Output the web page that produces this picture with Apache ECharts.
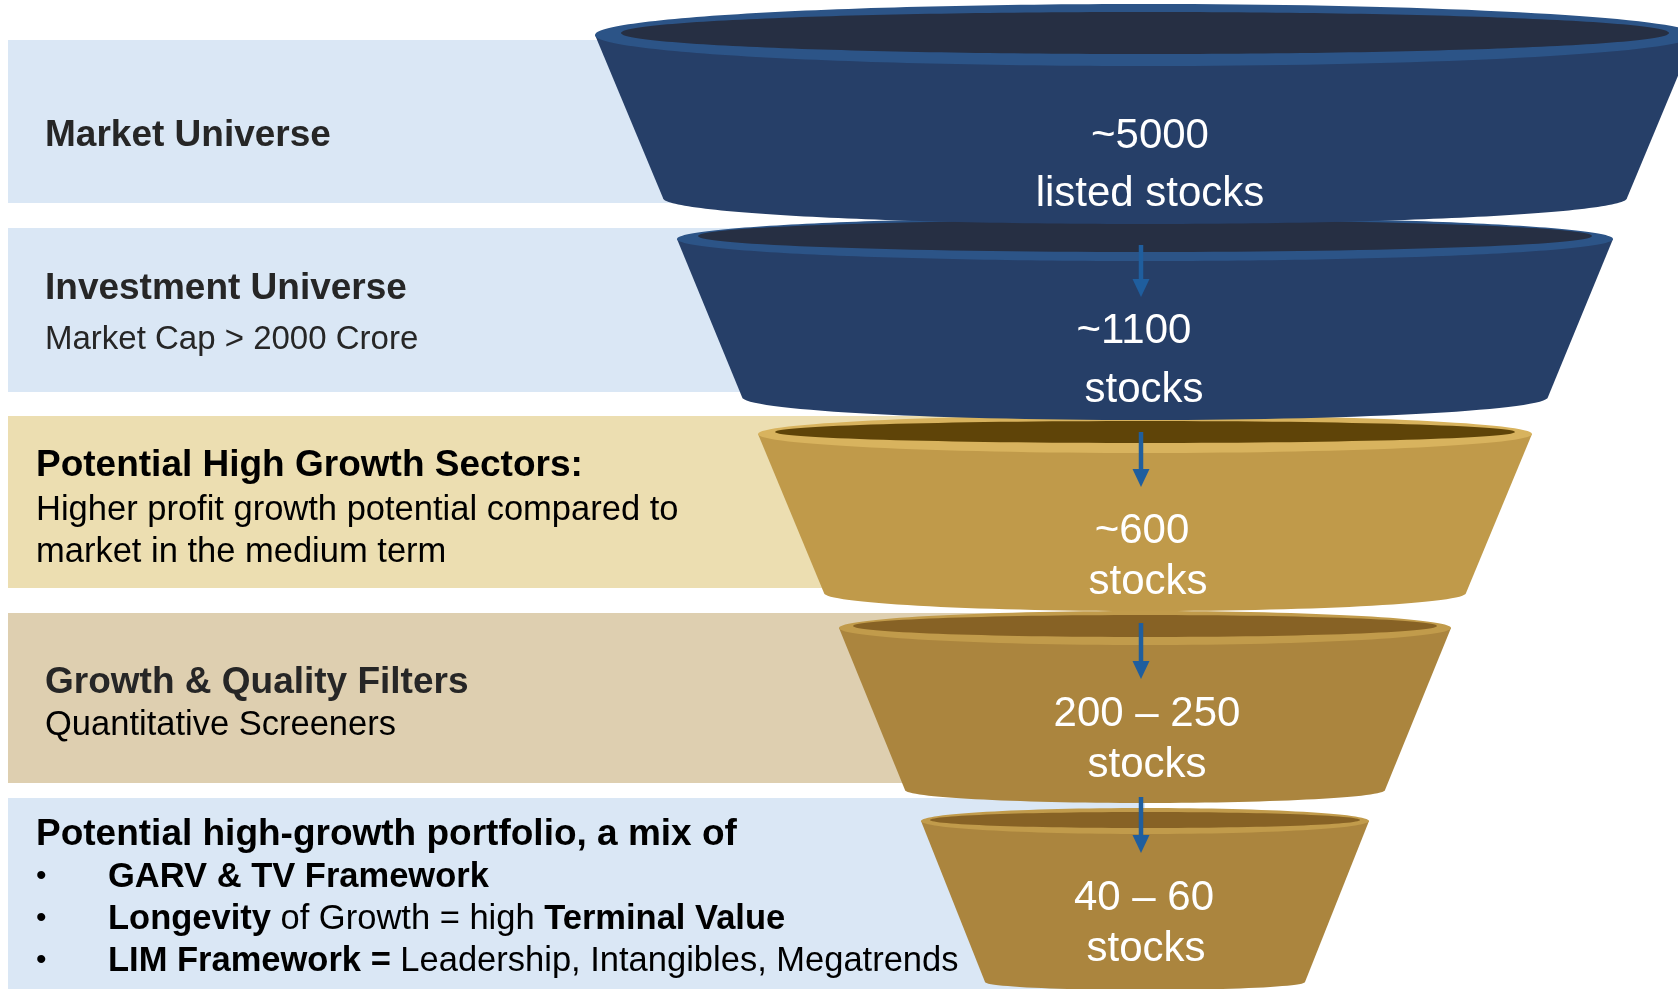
<!DOCTYPE html>
<html>
<head>
<meta charset="utf-8">
<script src="https://cdn.jsdelivr.net/npm/echarts@6/dist/echarts.min.js"></script>
<style>
html,body{margin:0;padding:0;background:#fff;}
#chart{width:1678px;height:989px;}
</style>
</head>
<body>
<div id="chart"></div>
<script>
// ---------- DATA ----------
const stageTitles = [
  'Market Universe',
  'Investment Universe',
  'Potential High Growth Sectors:',
  'Growth & Quality Filters',
  'Potential high-growth portfolio, a mix of'
];
const stageDetails = [
  [],
  ['Market Cap > 2000 Crore'],
  ['Higher profit growth potential compared to', 'market in the medium term'],
  ['Quantitative Screeners'],
  []
];
const portfolioBullets = [
  '{b|GARV & TV Framework}',
  '{b|Longevity}{r| of Growth = high }{b|Terminal Value}',
  '{b|LIM Framework =}{r| Leadership, Intangibles, Megatrends}'
];
const stockCounts = ['~5000', '~1100', '~600', '200 – 250', '40 – 60'];
const stockUnits = ['listed stocks', 'stocks', 'stocks', 'stocks', 'stocks'];

// ---------- LAYOUT / STYLE ----------
const FONT = '"Liberation Sans", Arial, sans-serif';
const TY = 3; // vertical text offset
const panelLayout = [
  {y0: 40,  y1: 203, fill: '#DAE7F5', titleY: 133, titleColor: '#262626', titleX: 45, detailY: [], detailSize: 34, detailColor: '#262626'},
  {y0: 228, y1: 392, fill: '#DAE7F5', titleY: 286, titleColor: '#262626', titleX: 45, detailY: [337], detailSize: 33, detailColor: '#262626'},
  {y0: 416, y1: 588, fill: '#ECDEB1', titleY: 463, titleColor: '#000000', titleX: 36, detailY: [507, 549], detailSize: 34.5, detailColor: '#000000'},
  {y0: 613, y1: 783, fill: '#DECFB0', titleY: 680, titleColor: '#262626', titleX: 45, detailY: [722], detailSize: 34.5, detailColor: '#000000'},
  {y0: 798, y1: 995, fill: '#DAE7F5', titleY: 832, titleColor: '#000000', titleX: 36, detailY: [], detailSize: 34.5, detailColor: '#000000'}
];
const bulletLayout = {bulletX: 36, textX: 108, ys: [874, 916, 958]};
const funnelLayout = [
  {topY: 35,  topRx: 550, topRy: 31, inRx: 524, inRy: 21, inDy: -2, botY: 198, botRx: 482, botRy: 26,
   body: '#263F68', rim: '#2C5487', inner: '#262F43', numX: 1150, numY: 133, unitX: 1150, unitY: 191},
  {topY: 239, topRx: 468, topRy: 22, inRx: 447, inRy: 16, inDy: -3, botY: 397, botRx: 403, botRy: 23,
   body: '#263F68', rim: '#2C5487', inner: '#262F43', numX: 1134, numY: 328, unitX: 1144, unitY: 387},
  {topY: 434, topRx: 387, topRy: 19, inRx: 370, inRy: 11, inDy: -2, botY: 593, botRx: 321, botRy: 18,
   body: '#C09A4A', rim: '#D8B35E', inner: '#5F4408', numX: 1142, numY: 528, unitX: 1148, unitY: 579},
  {topY: 628, topRx: 306, topRy: 17, inRx: 292, inRy: 11, inDy: -2, botY: 790, botRx: 240, botRy: 13,
   body: '#AB853E', rim: '#C19B4B', inner: '#876225', numX: 1147, numY: 711, unitX: 1147, unitY: 762},
  {topY: 821, topRx: 224, topRy: 13, inRx: 215, inRy: 8, inDy: -1, botY: 982, botRx: 160, botRy: 8,
   body: '#AB853E', rim: '#C19B4B', inner: '#876225', numX: 1144, numY: 895, unitX: 1146, unitY: 946}
];
const funnelCX = 1145;
const arrowLayout = [[245, 297], [432, 487], [623, 679], [797, 853]];
const arrowX = 1141;
const arrowColor = '#1F5E9E';

const chart = echarts.init(document.getElementById('chart'), null, {renderer: 'canvas'});

function pt(api, x, y) { return api.coord([x, y]); }

function renderPanel(params, api) {
  const i = api.value(0);
  const L = panelLayout[i];
  const p0 = pt(api, 8, L.y0), p1 = pt(api, funnelCX, L.y1);
  const children = [{
    type: 'rect', shape: {x: p0[0], y: p0[1], width: p1[0] - p0[0], height: p1[1] - p0[1]},
    style: {fill: L.fill}
  }];
  const tp = pt(api, L.titleX, L.titleY + TY);
  children.push({
    type: 'text', x: tp[0], y: tp[1],
    style: {text: stageTitles[i], fill: L.titleColor, fontFamily: FONT, fontWeight: 'bold', fontSize: 37,
            align: 'left', verticalAlign: 'middle'}
  });
  stageDetails[i].forEach((line, k) => {
    const dp = pt(api, L.titleX, L.detailY[k] + TY);
    children.push({
      type: 'text', x: dp[0], y: dp[1],
      style: {text: line, fill: L.detailColor, fontFamily: FONT, fontSize: L.detailSize,
              align: 'left', verticalAlign: 'middle'}
    });
  });
  if (i === 4) {
    portfolioBullets.forEach((line, k) => {
      const bp = pt(api, bulletLayout.bulletX, bulletLayout.ys[k] + TY);
      const tp2 = pt(api, bulletLayout.textX, bulletLayout.ys[k] + TY);
      children.push({
        type: 'text', x: bp[0], y: bp[1],
        style: {text: '•', fill: '#000', fontFamily: FONT, fontSize: 30, align: 'left', verticalAlign: 'middle'}
      });
      children.push({
        type: 'text', x: tp2[0], y: tp2[1],
        style: {text: line, align: 'left', verticalAlign: 'middle',
          rich: {
            b: {fill: '#000', fontFamily: FONT, fontWeight: 'bold', fontSize: 34.5},
            r: {fill: '#000', fontFamily: FONT, fontSize: 34.5}
          }}
      });
    });
  }
  return {type: 'group', children: children};
}

function renderFunnel(params, api) {
  const i = api.value(0);
  const F = funnelLayout[i];
  const zb = (5 - i) * 10;
  const tl = pt(api, funnelCX - F.topRx, F.topY), tr = pt(api, funnelCX + F.topRx, F.topY);
  const bl = pt(api, funnelCX - F.botRx, F.botY), br = pt(api, funnelCX + F.botRx, F.botY);
  const c = pt(api, funnelCX, F.topY), cb = pt(api, funnelCX, F.botY), ci = pt(api, funnelCX, F.topY + F.inDy);
  const sTop = api.size([F.topRx, F.topRy]), sBot = api.size([F.botRx, F.botRy]), sIn = api.size([F.inRx, F.inRy]);
  return {type: 'group', children: [
    {type: 'ellipse', z2: zb + 1, shape: {cx: cb[0], cy: cb[1], rx: sBot[0], ry: sBot[1]}, style: {fill: F.body}},
    {type: 'polygon', z2: zb + 2, shape: {points: [tl, bl, br, tr]}, style: {fill: F.body}},
    {type: 'ellipse', z2: zb + 3, shape: {cx: c[0], cy: c[1], rx: sTop[0], ry: sTop[1]}, style: {fill: F.rim}},
    {type: 'ellipse', z2: zb + 4, shape: {cx: ci[0], cy: ci[1], rx: sIn[0], ry: sIn[1]}, style: {fill: F.inner}}
  ]};
}

function renderLabel(params, api) {
  const i = api.value(0);
  const F = funnelLayout[i];
  const n = pt(api, F.numX, F.numY + TY), u = pt(api, F.unitX, F.unitY + TY);
  const children = [
    {type: 'text', x: n[0], y: n[1], style: {text: stockCounts[i], fill: '#fff', fontFamily: FONT, fontSize: 42, align: 'center', verticalAlign: 'middle'}},
    {type: 'text', x: u[0], y: u[1], style: {text: stockUnits[i], fill: '#fff', fontFamily: FONT, fontSize: 42, align: 'center', verticalAlign: 'middle'}}
  ];
  if (i > 0) {
    const a = arrowLayout[i - 1];
    const s = pt(api, arrowX, a[0]), e = pt(api, arrowX, a[1] - 18);
    const tip = pt(api, arrowX, a[1]);
    children.push({type: 'line', shape: {x1: s[0], y1: s[1], x2: e[0], y2: e[1] + 1}, style: {stroke: arrowColor, lineWidth: 4.5}});
    children.push({type: 'polygon', shape: {points: [[tip[0] - 8.5, e[1]], [tip[0] + 8.5, e[1]], [tip[0], tip[1]]]}, style: {fill: arrowColor}});
  }
  return {type: 'group', children: children};
}

const stageIdx = stageTitles.map((_, i) => [i]);

chart.setOption({
  animation: false,
  backgroundColor: '#ffffff',
  grid: {left: 0, right: 0, top: 0, bottom: 0},
  xAxis: {type: 'value', min: 0, max: 1678, show: false},
  yAxis: {type: 'value', min: 0, max: 989, inverse: true, show: false},
  series: [
    {type: 'custom', z: 1, silent: true, clip: false, renderItem: renderPanel, data: stageIdx},
    {type: 'custom', z: 2, silent: true, clip: false, renderItem: renderFunnel, data: stageIdx.slice().reverse()},
    {type: 'custom', z: 3, silent: true, clip: false, renderItem: renderLabel, data: stageIdx}
  ]
});
</script>
</body>
</html>
